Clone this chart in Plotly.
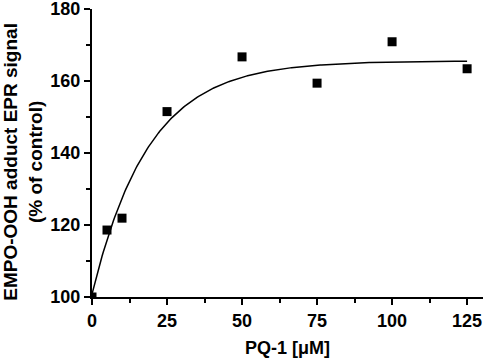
import numpy as np
import plotly.graph_objects as go

pq_conc = [0, 5, 10, 25, 50, 75, 100, 125]
signal = [100, 118.6, 121.9, 151.5, 166.7, 159.4, 170.9, 163.4]

# fitted exponential-rise model parameters
fit_y0 = 100.8
fit_amp = 64.8
fit_k = 0.053
fit_x = np.linspace(0, 125, 300)
fit_y = fit_y0 + fit_amp * (1 - np.exp(-fit_k * fit_x))

x_ticks = [0, 25, 50, 75, 100, 125]
y_ticks = [100, 120, 140, 160, 180]

fig = go.Figure()
fig.add_trace(go.Scatter(x=fit_x, y=fit_y, mode="lines",
                         line=dict(color="black", width=1.5), showlegend=False))
fig.add_trace(go.Scatter(x=pq_conc, y=signal, mode="markers",
                         marker=dict(symbol="square", size=9, color="black"),
                         showlegend=False))

fam = "Liberation Sans, Arial"
fig.update_layout(
    width=484, height=358,
    margin=dict(l=92, r=1, t=9, b=61),
    plot_bgcolor="white", paper_bgcolor="white",
    font=dict(family=fam, size=18, color="black"),
    xaxis=dict(range=[0, 130.3], tickvals=x_ticks, ticktext=[f"<b>{v}</b>" for v in x_ticks],
               showline=True, linecolor="black", linewidth=2, ticks="outside",
               ticklen=6, tickwidth=2, tickcolor="black", showgrid=False, zeroline=False,
               automargin=False, ticklabeloverflow="allow",
               minor=dict(tickvals=[12.5, 37.5, 62.5, 87.5, 112.5], ticks="outside", ticklen=4,
                          tickwidth=2, tickcolor="black", showgrid=False)),
    yaxis=dict(range=[100, 180], tickvals=y_ticks, ticktext=[f"<b>{v}</b>" for v in y_ticks],
               showline=True, linecolor="black", linewidth=2, ticks="outside",
               ticklen=6, tickwidth=2, tickcolor="black", showgrid=False, zeroline=False,
               automargin=False, ticklabeloverflow="allow",
               minor=dict(tickvals=[110, 130, 150, 170], ticks="outside", ticklen=4,
                          tickwidth=2, tickcolor="black", showgrid=False)),
    annotations=[
        dict(text="<b>PQ-1 [μM]</b>", xref="paper", yref="paper",
             x=0.499, y=-0.177, xanchor="center", yanchor="middle", showarrow=False,
             font=dict(family=fam, size=18, color="black")),
        dict(text="<b>EMPO-OOH adduct EPR signal<br>(% of control)</b>", xref="paper", yref="paper",
             x=-0.177, y=0.469, xanchor="center", yanchor="middle", showarrow=False,
             textangle=-90, font=dict(family=fam, size=19, color="black")),
    ],
)
fig.write_html("out.html", config={"displayModeBar": False},
               post_script="document.body.style.margin='0px';")
